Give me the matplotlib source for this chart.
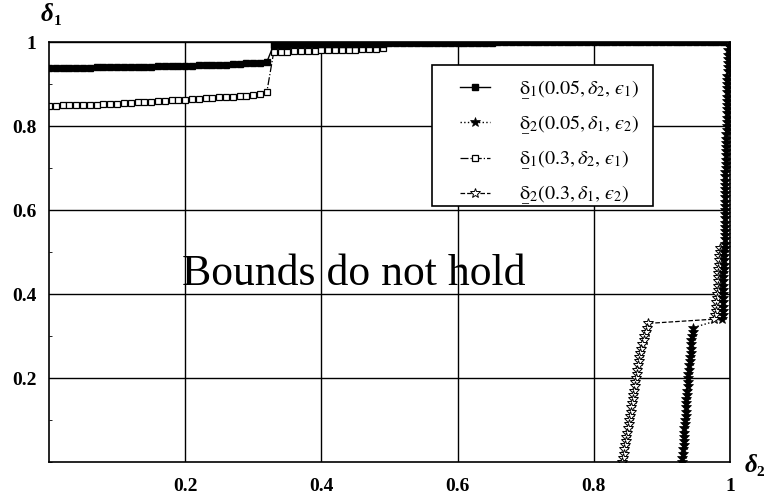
import numpy as np
import matplotlib

matplotlib.use("Agg")
import matplotlib.pyplot as plt
from matplotlib.patches import Rectangle
from matplotlib.ticker import FixedLocator, MultipleLocator

plt.rcParams["font.family"] = ["Liberation Serif", "DejaVu Serif"]
plt.rcParams["mathtext.fontset"] = "stix"

# ---- data ------------------------------------------------------------------
# lower bound delta_1(0.05, delta_2, eps_1): sampled on delta_2 = 0.00 .. 0.99
lb005_d2 = np.round(np.arange(0.0, 1.0, 0.01), 2)
lb005_d1 = [
    0.938, 0.938, 0.938, 0.939, 0.939, 0.939, 0.939, 0.940, 0.940, 0.940,
    0.940, 0.940, 0.941, 0.941, 0.941, 0.941, 0.942, 0.942, 0.942, 0.942,
    0.943, 0.943, 0.944, 0.944, 0.945, 0.945, 0.946, 0.947, 0.948, 0.949,
    0.950, 0.951, 0.953,
    0.993, 0.993, 0.993, 0.994, 0.994, 0.994, 0.994, 0.995, 0.995, 0.995,
    0.995, 0.995, 0.996, 0.996, 0.996, 0.996, 0.996, 0.997, 0.997, 0.997,
    0.997, 0.997, 0.997, 0.998, 0.998, 0.998, 0.998, 0.998, 0.998, 0.998,
    0.998, 0.998, 0.998, 0.999, 0.999, 0.999, 0.999, 0.999, 0.999, 0.999,
    0.999, 0.999, 0.999, 0.999, 0.999, 0.999, 0.999, 0.999, 1.000, 1.000,
    1.000, 1.000, 1.000, 1.000, 1.000, 1.000, 1.000, 1.000, 1.000, 1.000,
    1.000, 1.000, 1.000, 1.000, 1.000, 1.000, 1.000,
]

# lower bound delta_1(0.3, delta_2, eps_1): sampled on delta_2 = 0.00 .. 0.49
lb03_d2 = np.round(np.arange(0.0, 0.50, 0.01), 2)
lb03_d1 = [
    0.848, 0.848, 0.849, 0.849, 0.850, 0.850, 0.851, 0.851, 0.852, 0.853,
    0.853, 0.854, 0.855, 0.856, 0.857, 0.858, 0.859, 0.860, 0.861, 0.862,
    0.863, 0.864, 0.865, 0.866, 0.867, 0.868, 0.869, 0.870, 0.871, 0.872,
    0.874, 0.877, 0.882,
    0.976, 0.977, 0.977, 0.978, 0.978, 0.979, 0.979, 0.980, 0.980, 0.981,
    0.981, 0.982, 0.982, 0.983, 0.983, 0.984, 0.985,
]

# lower bound delta_2(0.05, delta_1, eps_2): sampled on delta_1
ub005_d1 = np.round(np.r_[np.arange(1.00, 0.335, -0.01), np.arange(0.32, -0.005, -0.01)], 2)
ub005_d2 = [
    0.998, 0.998, 0.997, 0.997, 0.997, 0.997, 0.997, 0.997, 0.996, 0.996,
    0.996, 0.996, 0.996, 0.996, 0.995, 0.995, 0.995, 0.995, 0.995, 0.995,
    0.995, 0.995, 0.994, 0.994, 0.994, 0.994, 0.994, 0.994, 0.994, 0.994,
    0.994, 0.993, 0.993, 0.993, 0.993, 0.993, 0.993, 0.993, 0.993, 0.993,
    0.993, 0.993, 0.993, 0.992, 0.992, 0.992, 0.992, 0.992, 0.992, 0.992,
    0.991, 0.991, 0.991, 0.991, 0.991, 0.990, 0.990, 0.990, 0.990, 0.990,
    0.990, 0.990, 0.989, 0.989, 0.989, 0.989, 0.988,
    0.946, 0.945, 0.944, 0.943, 0.943, 0.942, 0.942, 0.941, 0.941, 0.940,
    0.940, 0.939, 0.939, 0.938, 0.938, 0.937, 0.937, 0.936, 0.936, 0.935,
    0.935, 0.935, 0.934, 0.934, 0.933, 0.933, 0.933, 0.932, 0.932, 0.931,
    0.931, 0.930, 0.930,
]

# lower bound delta_2(0.3, delta_1, eps_2): sampled on delta_1
ub03_d1 = np.round(np.r_[np.arange(0.51, 0.335, -0.01), np.arange(0.33, -0.005, -0.01)], 2)
ub03_d2 = [
    0.985, 0.985, 0.984, 0.984, 0.984, 0.983, 0.983, 0.983, 0.982, 0.982,
    0.982, 0.981, 0.981, 0.980, 0.980, 0.979, 0.978, 0.976,
    0.880, 0.878, 0.876, 0.874, 0.873, 0.871, 0.870, 0.868, 0.867, 0.866,
    0.865, 0.864, 0.863, 0.862, 0.861, 0.860, 0.859, 0.858, 0.857, 0.856,
    0.855, 0.854, 0.853, 0.852, 0.851, 0.850, 0.849, 0.848, 0.847, 0.846,
    0.845, 0.844, 0.843, 0.842,
]

labels = [
    r"$\underset{\_}{\mathrm{\delta}}_1(0.05,\delta_2,\,ϵ_1)$",
    r"$\underset{\_}{\mathrm{\delta}}_2(0.05,\delta_1,\,ϵ_2)$",
    r"$\underset{\_}{\mathrm{\delta}}_1(0.3,\delta_2,\,ϵ_1)$",
    r"$\underset{\_}{\mathrm{\delta}}_2(0.3,\delta_1,\,ϵ_2)$",
]
xticks = [0.2, 0.4, 0.6, 0.8, 1.0]
yticks = [0.2, 0.4, 0.6, 0.8, 1.0]
tick_labels = ["0.2", "0.4", "0.6", "0.8", "1"]

# ---- figure ---------------------------------------------------------------
fig = plt.figure(figsize=(7.69, 5.02), dpi=100)
ax = fig.add_axes([0.0637, 0.0777, 0.8856, 0.8367])

ax.plot(lb03_d2, lb03_d1, linestyle="-.", color="black", lw=0.9,
        marker="s", ms=4.2, mfc="white", mec="black", mew=0.9, label=labels[2])
ax.plot(ub03_d2, ub03_d1, linestyle="--", color="black", lw=0.9,
        marker="*", ms=7.5, mfc="white", mec="black", mew=0.7, label=labels[3])
ax.plot(lb005_d2, lb005_d1, linestyle="-", color="black", lw=1.0,
        marker="s", ms=4.2, mfc="black", mec="black", label=labels[0])
ax.plot(ub005_d2, ub005_d1, linestyle=":", color="black", lw=1.0,
        marker="*", ms=7, mfc="black", mec="black", mew=0.5, label=labels[1])

ax.set_xlim(0, 1)
ax.set_ylim(0, 1)
ax.xaxis.set_major_locator(FixedLocator(xticks))
ax.yaxis.set_major_locator(FixedLocator(yticks))
ax.set_xticklabels(tick_labels)
ax.set_yticklabels(tick_labels)
ax.yaxis.set_minor_locator(MultipleLocator(0.1))
ax.tick_params(which="major", length=0, labelsize=14, pad=9)
ax.tick_params(axis="x", which="major", pad=11)
ax.tick_params(which="minor", direction="in", length=2, width=0.6)
for lab in ax.get_xticklabels() + ax.get_yticklabels():
    lab.set_fontweight("bold")
ax.grid(True, color="black", lw=1.0)
for sp in ax.spines.values():
    sp.set_linewidth(1.2)

fig.text(0.061, 0.972, "δ", fontsize=18, fontweight="bold", fontstyle="italic",
         ha="center", va="center")
fig.text(0.075, 0.958, "1", fontsize=11, fontweight="bold", ha="center", va="center")
fig.text(0.976, 0.072, "δ", fontsize=18, fontweight="bold", fontstyle="italic",
         ha="center", va="center")
fig.text(0.989, 0.058, "2", fontsize=11, fontweight="bold", ha="center", va="center")

ax.text(0.195, 0.424, "Bounds do not hold", fontsize=31.5, ha="left",
        va="baseline", color="black")

# legend: frame drawn by hand so the padding matches the reference
ax.add_patch(Rectangle((0.562, 0.61), 0.325, 0.335, transform=ax.transAxes,
                       facecolor="white", edgecolor="black", lw=1.2, zorder=5))
handles, labs = ax.get_legend_handles_labels()
order = [labs.index(l) for l in labels]
leg = ax.legend([handles[i] for i in order], [labs[i] for i in order],
                loc="upper left", bbox_to_anchor=(0.6035, 0.915), borderaxespad=0,
                borderpad=0, fontsize=14.5, numpoints=1, handlelength=1.5,
                handletextpad=1.45, labelspacing=0.55, frameon=False)
leg.set_zorder(6)

fig.savefig("out.png", dpi=100)
